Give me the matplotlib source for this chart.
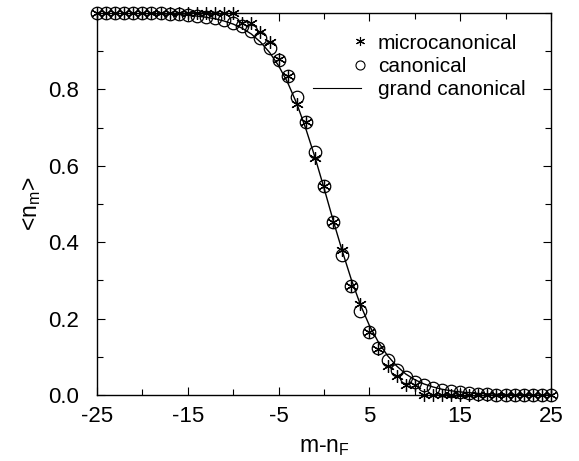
import numpy as np
import matplotlib
matplotlib.use("Agg")
import matplotlib.pyplot as plt
from matplotlib.legend_handler import HandlerLine2DCompound
from matplotlib.lines import Line2D
from matplotlib.ticker import MultipleLocator

plt.rcParams['font.family'] = ['Liberation Sans', 'DejaVu Sans']
plt.rcParams['axes.unicode_minus'] = False

# m - n_F
m_nf = list(range(-25, 26))

# microcanonical (stars)
micro = [1.0] * 16 + [0.973, 0.973, 0.950, 0.925, 0.879, 0.835, 0.762, 0.715, 0.620,
                      0.547, 0.453, 0.380, 0.285, 0.238, 0.165, 0.121, 0.075, 0.050,
                      0.027, 0.027, 0.0] + [0.0] * 14

# canonical (circles)
canon = [1.0, 1.0, 1.0, 1.0, 1.0, 1.0, 1.0, 0.999, 0.998, 0.997, 0.995, 0.993,
         0.99, 0.987, 0.982, 0.975, 0.966, 0.953, 0.935, 0.908, 0.877, 0.835,
         0.780, 0.715, 0.636, 0.547, 0.453, 0.366, 0.285, 0.220, 0.165, 0.123,
         0.092, 0.065, 0.047, 0.034, 0.025, 0.018, 0.013, 0.010, 0.007, 0.005,
         0.003, 0.002, 0.001, 0.0, 0.0, 0.0, 0.0, 0.0, 0.0]

# grand canonical (line)
grand = [1.0, 1.0, 1.0, 0.999, 0.999, 0.999, 0.998, 0.998, 0.997, 0.996,
         0.994, 0.992, 0.989, 0.985, 0.979, 0.971, 0.960, 0.945, 0.924,
         0.897, 0.862, 0.818, 0.763, 0.697, 0.623, 0.542, 0.458, 0.378,
         0.303, 0.237, 0.182, 0.138, 0.103, 0.076, 0.055, 0.040, 0.029,
         0.021, 0.015, 0.011, 0.008, 0.006, 0.004, 0.003, 0.002, 0.001,
         0.001, 0.001, 0.0, 0.0, 0.0]

labels = ['microcanonical', 'canonical', 'grand canonical']


class RightMarker(HandlerLine2DCompound):
    def get_xdata(self, legend, xdescent, ydescent, width, height, fontsize):
        xdata = np.array([-xdescent, -xdescent + width * 0.96])
        xdata_marker = np.array([-xdescent + width * 0.94])
        return xdata, xdata_marker


fig = plt.figure(figsize=(5.79, 4.61), dpi=100)
ax = fig.add_axes([0.1675, 0.1432, 0.7841, 0.8286])

ax.plot(m_nf, grand, color='black', lw=1.0, zorder=2)
ax.plot(m_nf, canon, ls='none', marker='o', ms=9, mfc='none', mec='black', mew=0.9,
        zorder=3, clip_on=False)
ax.plot(m_nf, micro, ls='none', marker=(6, 2, 0), ms=9, color='black', mew=0.9,
        zorder=4, clip_on=False)

ax.set_xlim(-25, 25)
ax.set_ylim(0, 1.0)
ax.set_xticks([-25, -15, -5, 5, 15, 25])
ax.xaxis.set_minor_locator(MultipleLocator(5))
ax.set_yticks([0.0, 0.2, 0.4, 0.6, 0.8])
ax.set_yticklabels(['0.0', '0.2', '0.4', '0.6', '0.8'])
ax.yaxis.set_minor_locator(MultipleLocator(0.1))
ax.tick_params(which='both', direction='in', top=True, right=True, labelsize=16, width=0.8)
ax.tick_params(which='major', length=6)
ax.tick_params(which='minor', length=4)
ax.tick_params(axis='x', which='major', pad=8)
ax.tick_params(axis='y', which='major', pad=13)
for s in ax.spines.values():
    s.set_linewidth(1.0)

ax.set_xlabel('m-n$_\\mathregular{F}$', fontsize=16.5, labelpad=6)
ax.set_ylabel('<n$_\\mathregular{m}$>', fontsize=16.5, labelpad=3.5)

proxies = [
    Line2D([], [], ls='none', marker=(6, 2, 0), ms=6.5, color='black', mew=0.8),
    Line2D([], [], ls='none', marker='o', ms=6.5, mfc='none', mec='black', mew=0.8),
    Line2D([], [], color='black', lw=0.8),
]
leg = ax.legend(proxies, labels, loc='upper right',
                bbox_to_anchor=(0.985, 0.995), frameon=False, fontsize=15,
                handlelength=2.4, handletextpad=0.7, labelspacing=0.2, numpoints=1,
                handler_map={Line2D: RightMarker()})

fig.savefig('out.png', dpi=100)
